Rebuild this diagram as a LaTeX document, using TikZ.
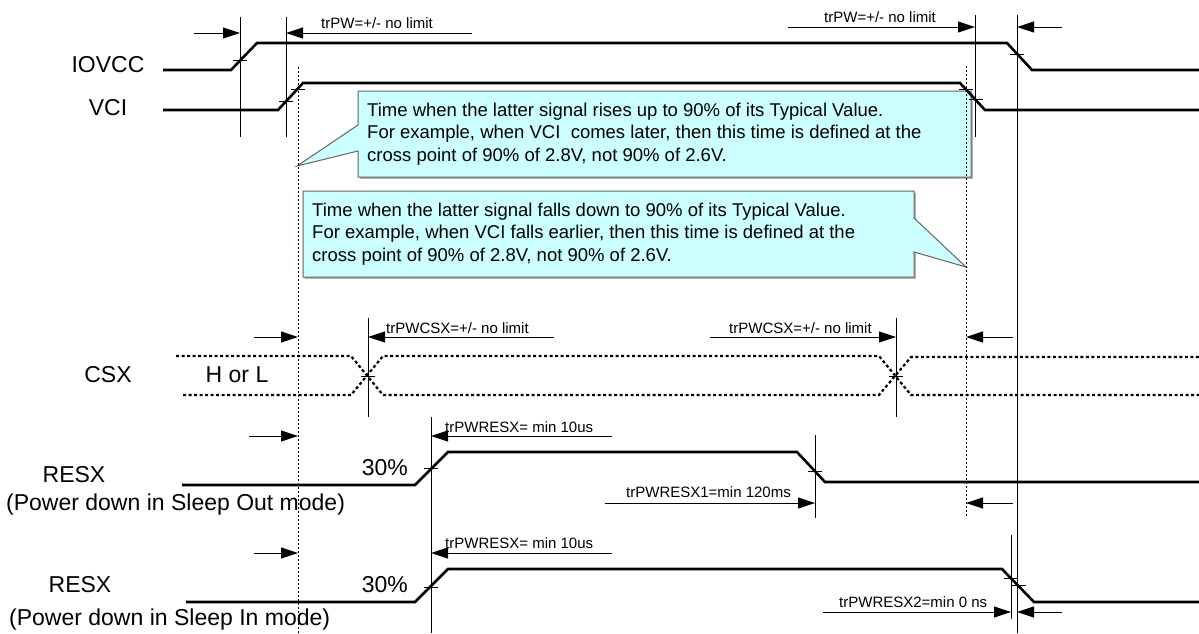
\documentclass[tikz,border=0pt]{standalone}
\usepackage{fontspec}
\setmainfont{Liberation Sans}
\usetikzlibrary{arrows.meta}
\definecolor{callfill}{RGB}{204,255,255}
\definecolor{callline}{RGB}{100,100,100}
\begin{document}
\begin{tikzpicture}[x=1pt,y=-1pt,
  sig/.style={line width=2.6pt, line join=miter},
  vline/.style={line width=0.9pt},
  dim/.style={line width=0.9pt,-{Triangle[length=17pt,width=11pt]}},
  dotv/.style={line width=0.9pt,dash pattern=on 2pt off 2pt},
  dsig/.style={line width=2.2pt,dash pattern=on 3pt off 2.5pt},
  tickm/.style={line width=0.9pt},
  big/.style={font=\fontsize{23}{27}\selectfont, inner sep=0pt},
  small/.style={font=\fontsize{15}{18}\selectfont, inner sep=0pt, anchor=west},
  ctext/.style={font=\fontsize{18.5}{22.5}\selectfont, inner sep=0pt, align=left, anchor=west},
  callout/.style={fill=callfill, draw=callline, line width=1pt},
  cshadow/.style={fill=black!30, draw=none}]
\useasboundingbox (0,0) rectangle (1199,633);

% ---------- callouts ----------
\fill[cshadow] (360,93) rectangle (973,179);
\draw[callout] (358,91) -- (971,91) -- (971,177) -- (358,177) -- (358,151) -- (297,166) -- (358,125) -- cycle;
\node[ctext] (c1) at (367,134) {Time when the latter signal rises up to 90\% of its Typical Value.\\For example, when VCI~ comes later, then this time is defined at the\\cross point of 90\% of 2.8V, not 90\% of 2.6V.};
\fill[cshadow] (305,193) rectangle (916,279);
\draw[callout] (303,191) -- (914,191) -- (914,218) -- (966,267) -- (914,252) -- (914,277) -- (303,277) -- cycle;
\node[ctext] (c2) at (312,234) {Time when the latter signal falls down to 90\% of its Typical Value.\\For example, when VCI falls earlier, then this time is defined at the\\cross point of 90\% of 2.8V, not 90\% of 2.6V.};

% ---------- dotted reference lines ----------
\draw[dotv] (298,67) -- (298,633);
\draw[dotv] (966,66) -- (966,518);

% ---------- vertical marker lines ----------
\draw[vline] (240,17) -- (240,137);
\draw[vline] (286,17) -- (286,137);
\draw[vline] (975,15) -- (975,137);
\draw[vline] (1017,15) -- (1017,633);
\draw[vline] (368,318) -- (368,417);
\draw[vline] (896,318) -- (896,417);
\draw[vline] (431,417) -- (431,633);
\draw[vline] (815,435) -- (815,518);
\draw[vline] (1011,535) -- (1011,619);

% ---------- labels ----------
\node[big] (liovcc) at (108,65) {IOVCC};
\node[big] (lvci) at (108,108) {VCI};
\node[big] (lcsx) at (108,375) {CSX};
\node[big] (lhl) at (237,375) {H or L};
\node[big] (lresx1) at (74,475) {RESX};
\node[big, anchor=west] (lpd1) at (6,505) {(Power down in Sleep Out mode)};
\node[big] (lresx2) at (80,585) {RESX};
\node[big, anchor=west] (lpd2) at (9,620) {(Power down in Sleep In mode)};
\node[big, anchor=east] (p1) at (408,468) {30\%};
\node[big, anchor=east] (p2) at (408,585) {30\%};

% ---------- waveforms ----------
\draw[sig] (163,70) -- (231,70) -- (257,43) -- (1007,43) -- (1032,70) -- (1199,70);
\draw[sig] (163,110) -- (278,110) -- (303,83) -- (960,83) -- (985,110) -- (1199,110);
\draw[sig] (182,485) -- (415,485) -- (448,452) -- (797,452) -- (825,482) -- (1199,482);
\draw[sig] (186,602) -- (415,602) -- (448,569) -- (1002,569) -- (1034,602) -- (1199,602);

% CSX (don't care)
\draw[dsig] (176,356) -- (351,356) -- (383,395) -- (879,395) -- (911,357) -- (1199,357);
\draw[dsig] (183,395) -- (351,395) -- (383,356) -- (879,356) -- (911,395) -- (1199,395);

% ---------- tick marks ----------
\draw[tickm] (233,60) -- ++(14,0);
\draw[tickm] (1010,54) -- ++(14,0);
\draw[tickm] (279,101) -- ++(14,0);
\draw[tickm] (291,89) -- ++(14,0);
\draw[tickm] (959,89) -- ++(14,0);
\draw[tickm] (969,99) -- ++(14,0);
\draw[tickm] (361,376) -- ++(14,0);
\draw[tickm] (889,376) -- ++(14,0);
\draw[tickm] (424,468) -- ++(14,0);
\draw[tickm] (808,471) -- ++(14,0);
\draw[tickm] (424,587) -- ++(14,0);
\draw[tickm] (1004,578) -- ++(14,0);
\draw[tickm] (1012,585) -- ++(14,0);

% ---------- dimension arrows ----------
\draw[dim] (194,33) -- (240,33);
\draw[dim] (472,33) -- (286,33);
\node[small] (t1) at (321,23) {trPW=+/- no limit};
\draw[dim] (788,27) -- (975,27);
\draw[dim] (1062,27) -- (1017,27);
\node[small] (t2) at (824,17) {trPW=+/- no limit};

\draw[dim] (254,337) -- (298,337);
\draw[dim] (554,337) -- (368,337);
\node[small] (t3) at (386,328) {trPWCSX=+/- no limit};
\draw[dim] (710,337) -- (896,337);
\draw[dim] (1013,337) -- (966,337);
\node[small] (t4) at (729,328) {trPWCSX=+/- no limit};

\draw[dim] (249,436) -- (298,436);
\draw[dim] (612,436) -- (431,436);
\node[small] (t5) at (445,427) {trPWRESX= min 10us};
\draw[dim] (605,503) -- (815,503);
\draw[dim] (1013,503) -- (966,503);
\node[small] (t6) at (626,492) {trPWRESX1=min 120ms};

\draw[dim] (254,553) -- (298,553);
\draw[dim] (612,553) -- (431,553);
\node[small] (t7) at (445,543) {trPWRESX= min 10us};
\draw[dim] (823,612) -- (1011,612);
\draw[dim] (1062,612) -- (1017,612);
\node[small] (t8) at (839,602) {trPWRESX2=min 0 ns};
\end{tikzpicture}
\end{document}
